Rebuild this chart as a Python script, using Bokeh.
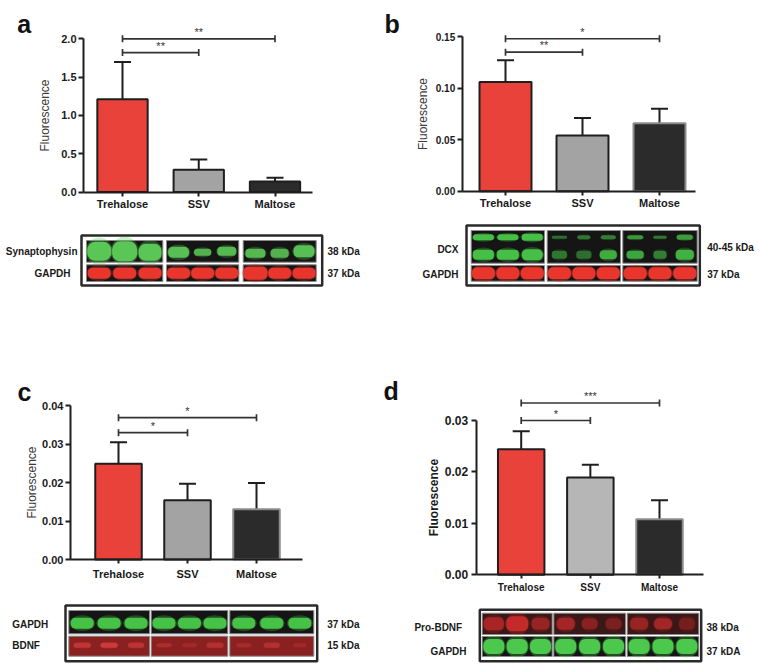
import numpy as np
from bokeh.plotting import figure
from bokeh.models import (Range1d, FixedTicker, NumeralTickFormatter, Whisker, TeeHead,
                          ColumnDataSource, Rect)
from bokeh.layouts import row, column
from bokeh.embed import file_html
from bokeh.resources import INLINE
from bokeh.core.properties import value

FONT = "Liberation Sans"
GROUPS = ["Trehalose", "SSV", "Maltose"]

# ---------------- bar data ----------------
A_MEAN = [1.21, 0.29, 0.137]
A_ERR = [0.488, 0.134, 0.048]
A_TICKS = [0.0, 0.5, 1.0, 1.5, 2.0]
A_SIG_FROM = [0, 0]
A_SIG_TO = [1, 2]
A_SIG_Y = [1.82, 2.0]
A_SIG_TXT = ["**", "**"]

B_MEAN = [0.106, 0.054, 0.066]
B_ERR = [0.021, 0.017, 0.014]
B_TICKS = [0.0, 0.05, 0.10, 0.15]
B_SIG_FROM = [0, 0]
B_SIG_TO = [1, 2]
B_SIG_Y = [0.1348, 0.1478]
B_SIG_TXT = ["**", "*"]

C_MEAN = [0.0249, 0.0154, 0.0131]
C_ERR = [0.0056, 0.0043, 0.0068]
C_TICKS = [0.0, 0.01, 0.02, 0.03, 0.04]
C_SIG_FROM = [0, 0]
C_SIG_TO = [1, 2]
C_SIG_Y = [0.0330, 0.0369]
C_SIG_TXT = ["*", "*"]

D_MEAN = [0.0244, 0.0189, 0.0108]
D_ERR = [0.0035, 0.0025, 0.0037]
D_TICKS = [0.0, 0.01, 0.02, 0.03]
D_SIG_FROM = [0, 0]
D_SIG_TO = [1, 2]
D_SIG_Y = [0.0300, 0.0334]
D_SIG_TXT = ["*", "***"]

# ---------------- blot band intensities (lane, width, height, alpha, dy) ----------------
A_SYN_BANDS = [(0, 24, 19, 1.0, 0), (1, 25, 20, 1.0, 0), (2, 23, 17, 1.0, 1),
               (3, 21, 11, 0.95, 1), (4, 17, 7, 0.85, 1), (5, 19, 9, 0.9, 0),
               (6, 20, 9, 0.9, 2), (7, 18, 9, 0.85, 2), (8, 21, 12, 0.95, 0)]
A_GAP_BANDS = [(i, 23, 11, 1.0, 0) for i in range(6)] + [(6, 24, 13, 1.0, 0), (7, 23, 11, 1.0, 0), (8, 23, 11, 1.0, 0)]

B_DCX_BANDS = [(0, 21, 6, 1.0, -9.5), (0, 21, 10, 1.0, 8), (1, 21, 6, 1.0, -9.5), (1, 22, 10, 1.0, 8),
               (2, 21, 7, 1.0, -9.5), (2, 21, 11, 1.0, 8),
               (3, 15, 3, 0.45, -9.5), (3, 15, 8, 0.5, 8), (4, 13, 4, 0.5, -9.5), (4, 15, 8, 0.45, 8),
               (5, 15, 4, 0.55, -9.5), (5, 17, 9, 0.85, 8),
               (6, 16, 4, 0.7, -9.5), (6, 17, 8, 0.8, 8), (7, 13, 3, 0.5, -9.5), (7, 13, 8, 0.55, 8),
               (8, 16, 5, 0.75, -9.5), (8, 18, 10, 0.9, 8)]
B_GAP_BANDS = [(i, 23, 12, 1.0, 0) for i in range(9)]

C_GAP_BANDS = [(i, 23, 11, 1.0, 1) for i in range(9)]
C_BDNF_BANDS = [(0, 17, 5, 0.6, -1), (1, 17, 5, 0.75, -1), (2, 16, 5, 0.55, -1),
                (3, 15, 4, 0.35, -1), (4, 15, 4, 0.25, -1), (5, 17, 5, 0.45, -1),
                (6, 15, 4, 0.3, -1), (7, 16, 5, 0.45, -1), (8, 13, 4, 0.25, -1)]

D_PRO_BANDS = [(0, 20, 13, 0.75, 0), (1, 22, 15, 1.0, 0), (2, 18, 12, 0.6, 0),
               (3, 18, 12, 0.7, 0), (4, 16, 11, 0.5, 0), (5, 16, 11, 0.4, 0),
               (6, 18, 12, 0.6, 0), (7, 18, 11, 0.7, 0), (8, 16, 12, 0.35, 0)]
D_GAP_BANDS = [(i, 21, 15, 1.0, 0) for i in range(9)]

RED = "#e8423a"
GREY = "#a3a3a3"
GREY_D = "#b6b6b6"
BLACK = "#2b2b2b"
INK = "#1e1e1e"
GREEN = "#5ac655"
REDB = "#e8362d"
BG = "#151515"
PX = dict(x_range_name="px", y_range_name="px")
ROUNDED = "border_radius" in Rect.properties()


def panel(W, H, cx0, s, y0, ppu):
    """One figure per panel; the frame covers the whole panel.
    cx0/s: pixel of first category and pixels per category; y0/ppu: pixel of value 0 and pixels per unit."""
    p = figure(width=W, height=H, x_range=Range1d(-cx0 / s, (W - cx0) / s),
               y_range=Range1d(-(H - y0) / ppu, y0 / ppu),
               output_backend="svg", toolbar_location=None, min_border=0)
    p.extra_x_ranges = {"px": Range1d(0, W)}
    p.extra_y_ranges = {"px": Range1d(H, 0)}
    p.outline_line_color = None
    p.grid.visible = False
    p.background_fill_color = "white"
    p._geom = (cx0, s)
    return p


def bars(p, mean, err, yticks, fmt, sfrom, sto, sy, stxt, ax_l, ax_r, bar_w, fills, lines,
         ylabel_bold, x_fs, y_fs, x_standoff, y_standoff, label_standoff):
    cx0, s = p._geom
    xl = (ax_l - cx0) / s
    xr = (ax_r - cx0) / s
    upper = [m + e for m, e in zip(mean, err)]
    src = ColumnDataSource(dict(x=[0, 1, 2], top=mean, upper=upper, fill=fills, line=lines))
    p.vbar(x="x", top="top", bottom=0, width=bar_w, fill_color="fill", line_color="line",
           line_width=2, source=src)
    p.add_layout(Whisker(base="x", lower="top", upper="upper", source=src, line_width=2,
                         line_color=INK, lower_head=None,
                         upper_head=TeeHead(size=17, line_width=2, line_color=INK)))
    p.segment(x0=sfrom, x1=sto, y0=sy, y1=sy, line_width=1.7, line_color="#333333")
    p.scatter(x=list(sfrom) + list(sto), y=list(sy) + list(sy), marker="dash", size=7,
              angle=np.pi / 2, line_width=1.7, line_color="#333333")
    p.text(x=[(a + b) / 2 for a, b in zip(sfrom, sto)], y=sy, text=stxt,
           text_font=value(FONT), text_font_size="11px", text_color="#333333",
           text_align="center", text_baseline="bottom", y_offset=-1)

    xa = p.xaxis[0]
    xa.fixed_location = 0
    xa.bounds = (xl, xr)
    xa.ticker = FixedTicker(ticks=[0, 1, 2])
    xa.major_label_overrides = {0: GROUPS[0], 1: GROUPS[1], 2: GROUPS[2]}
    xa.major_tick_out = 4
    xa.major_tick_in = 0
    xa.major_label_standoff = x_standoff
    xa.major_label_text_font_size = x_fs
    ya = p.yaxis[0]
    ya.fixed_location = xl
    ya.ticker = FixedTicker(ticks=yticks)
    ya.formatter = NumeralTickFormatter(format=fmt)
    ya.bounds = (0, yticks[-1])
    ya.major_tick_out = 5
    ya.major_tick_in = 0
    ya.major_label_standoff = y_standoff
    ya.major_label_text_font_size = y_fs
    ya.axis_label = "Fluorescence"
    ya.axis_label_standoff = label_standoff
    ya.axis_label_text_font = FONT
    ya.axis_label_text_font_size = "12px"
    ya.axis_label_text_font_style = "bold" if ylabel_bold else "normal"
    ya.axis_label_text_color = "#1a1a1a" if ylabel_bold else "#3a3a3a"
    for ax in (xa, ya):
        ax.axis_line_width = 2
        ax.axis_line_color = INK
        ax.major_tick_line_width = 2
        ax.major_tick_line_color = INK
        ax.minor_tick_line_color = None
        ax.major_label_text_font = FONT
        ax.major_label_text_font_style = "bold"
        ax.major_label_text_color = "#1a1a1a"


def letter(p, x, y, t):
    p.text(x=[x], y=[y], text=[t], text_font=value(FONT), text_font_size="25px",
           text_font_style="bold", text_color="#111111", text_align="left",
           text_baseline="alphabetic", **PX)


def band_glyph(p, x, y, w, h, color, a):
    if ROUNDED:
        r = max(1, int(round(min(w, h) * 0.42)))
        p.rect(x=[x], y=[y], width=[w], height=[h], fill_color=color, fill_alpha=a,
               line_color=None, border_radius=r, **PX)
    else:
        p.ellipse(x=[x], y=[y], width=[w], height=[h], fill_color=color, fill_alpha=a,
                  line_color=None, **PX)


def draw_blot(p, box, groups, rows):
    l, r, t, b = box
    p.quad(left=[l], right=[r], top=[t], bottom=[b], fill_color="white",
           line_color="#2a2a2a", line_width=2.5, **PX)
    for (rt, rb, bg, color, bands) in rows:
        p.quad(left=[g[0] for g in groups], right=[g[1] for g in groups],
               top=[rt] * 3, bottom=[rb] * 3, fill_color=bg, line_color="#8a8a8a",
               line_width=1, **PX)
        xs, ys, ws, hs, al = [], [], [], [], []
        for (lane, w, h, a, dy) in bands:
            gl, gr = groups[lane // 3]
            lw = (gr - gl) / 3
            xs.append(gl + lw * (lane % 3 + 0.5))
            ys.append((rt + rb) / 2 + dy)
            ws.append(w)
            hs.append(h)
            al.append(a)
        # soft halo, then the band
        p.ellipse(x=xs, y=ys, width=[w * 1.12 for w in ws], height=[h * 1.45 for h in hs],
                  fill_color=color, fill_alpha=[a * 0.3 for a in al], line_color=None, **PX)
        for x, y, w, h, a in zip(xs, ys, ws, hs, al):
            band_glyph(p, x, y, w, h, color, a)


def blot_text(p, xs, ys, texts, align):
    p.text(x=xs, y=ys, text=texts, text_font=value(FONT), text_font_size="10px",
           text_font_style="bold", text_color="#1a1a1a", text_align=align,
           text_baseline="middle", **PX)


# ---------- panel a ----------
pA = panel(380, 330, 122, 76.25, 191.5, 76.6)
bars(pA, A_MEAN, A_ERR, A_TICKS, "0.0", A_SIG_FROM, A_SIG_TO, A_SIG_Y, A_SIG_TXT,
     83, 312, 0.66, [RED, GREY, BLACK], [INK, INK, INK], False, "11px", "11px", 2, 2, 6)
letter(pA, 16.7, 23, "a")
draw_blot(pA, (81, 321.7, 235, 285), [(86, 162.3), (166, 238.3), (242.7, 315.7)],
          [(240, 261.7, BG, GREEN, A_SYN_BANDS), (264.3, 281, BG, REDB, A_GAP_BANDS)])
blot_text(pA, [77, 70], [251, 273], ["Synaptophysin", "GAPDH"], "right")
blot_text(pA, [327, 327], [251, 273], ["38 kDa", "37 kDa"], "left")

# ---------- panel b ----------
pB = panel(378, 330, 125, 77, 190.7, 1031.3)
bars(pB, B_MEAN, B_ERR, B_TICKS, "0.00", B_SIG_FROM, B_SIG_TO, B_SIG_Y, B_SIG_TXT,
     81.7, 315, 0.675, [RED, GREY, BLACK], [INK, INK, "#8c8c8c"], False, "11px", "10px", 2, 2, 3)
letter(pB, 4, 23.3, "b")
draw_blot(pB, (86, 319.3, 225, 285), [(90.7, 164), (166.7, 240), (242.3, 316.7)],
          [(230, 262.7, BG, "#45bf45", B_DCX_BANDS), (265, 280.7, BG, REDB, B_GAP_BANDS)])
blot_text(pB, [78, 78], [248.5, 273.5], ["DCX", "GAPDH"], "right")
blot_text(pB, [326.7, 326.7], [247, 273.5], ["40-45 kDa", "37 kDa"], "left")

# ---------- panel c ----------
pC = panel(380, 334, 118, 69, 229, 3842.5)
bars(pC, C_MEAN, C_ERR, C_TICKS, "0.00", C_SIG_FROM, C_SIG_TO, C_SIG_Y, C_SIG_TXT,
     70, 301.7, 0.674, [RED, GREY, BLACK], [INK, INK, "#8c8c8c"], False, "11px", "11px", 4, 2, 0)
letter(pC, 17, 61.7, "c")
draw_blot(pC, (65, 316.7, 275, 330.7), [(68.3, 149), (150.7, 227.3), (229.3, 313.3)],
          [(280, 303.3, BG, "#46c246", C_GAP_BANDS), (305.7, 325.7, "#8a2020", "#dc4040", C_BDNF_BANDS)])
blot_text(pC, [11.7, 11.7], [294, 315], ["GAPDH", "BDNF"], "left")
blot_text(pC, [326.7, 326.7], [294, 315], ["37 kDa", "15 kDa"], "left")

# ---------- panel d ----------
pD = panel(378, 334, 140.7, 69.15, 244.3, 5143)
bars(pD, D_MEAN, D_ERR, D_TICKS, "0.00", D_SIG_FROM, D_SIG_TO, D_SIG_Y, D_SIG_TXT,
     95.7, 323, 0.672, [RED, GREY_D, BLACK], [INK, INK, "#8c8c8c"], True, "10px", "12px", 3, 3, 1)
letter(pD, 3, 60, "d")
draw_blot(pD, (99.3, 320.7, 279.3, 330.7), [(101.7, 171.7), (173.3, 245), (246.7, 318.3)],
          [(282.7, 304, "#3c1717", "#c42a2a", D_PRO_BANDS), (306, 326, BG, "#4cc94c", D_GAP_BANDS)])
blot_text(pD, [81.7, 86], [297.3, 320.7], ["Pro-BDNF", "GAPDH"], "right")
blot_text(pD, [326, 326], [297.3, 320.7], ["38 kDa", "37 kDA"], "left")

layout = column(row(pA, pB), row(pC, pD))

open("out.html", "w").write(file_html(layout, INLINE))
